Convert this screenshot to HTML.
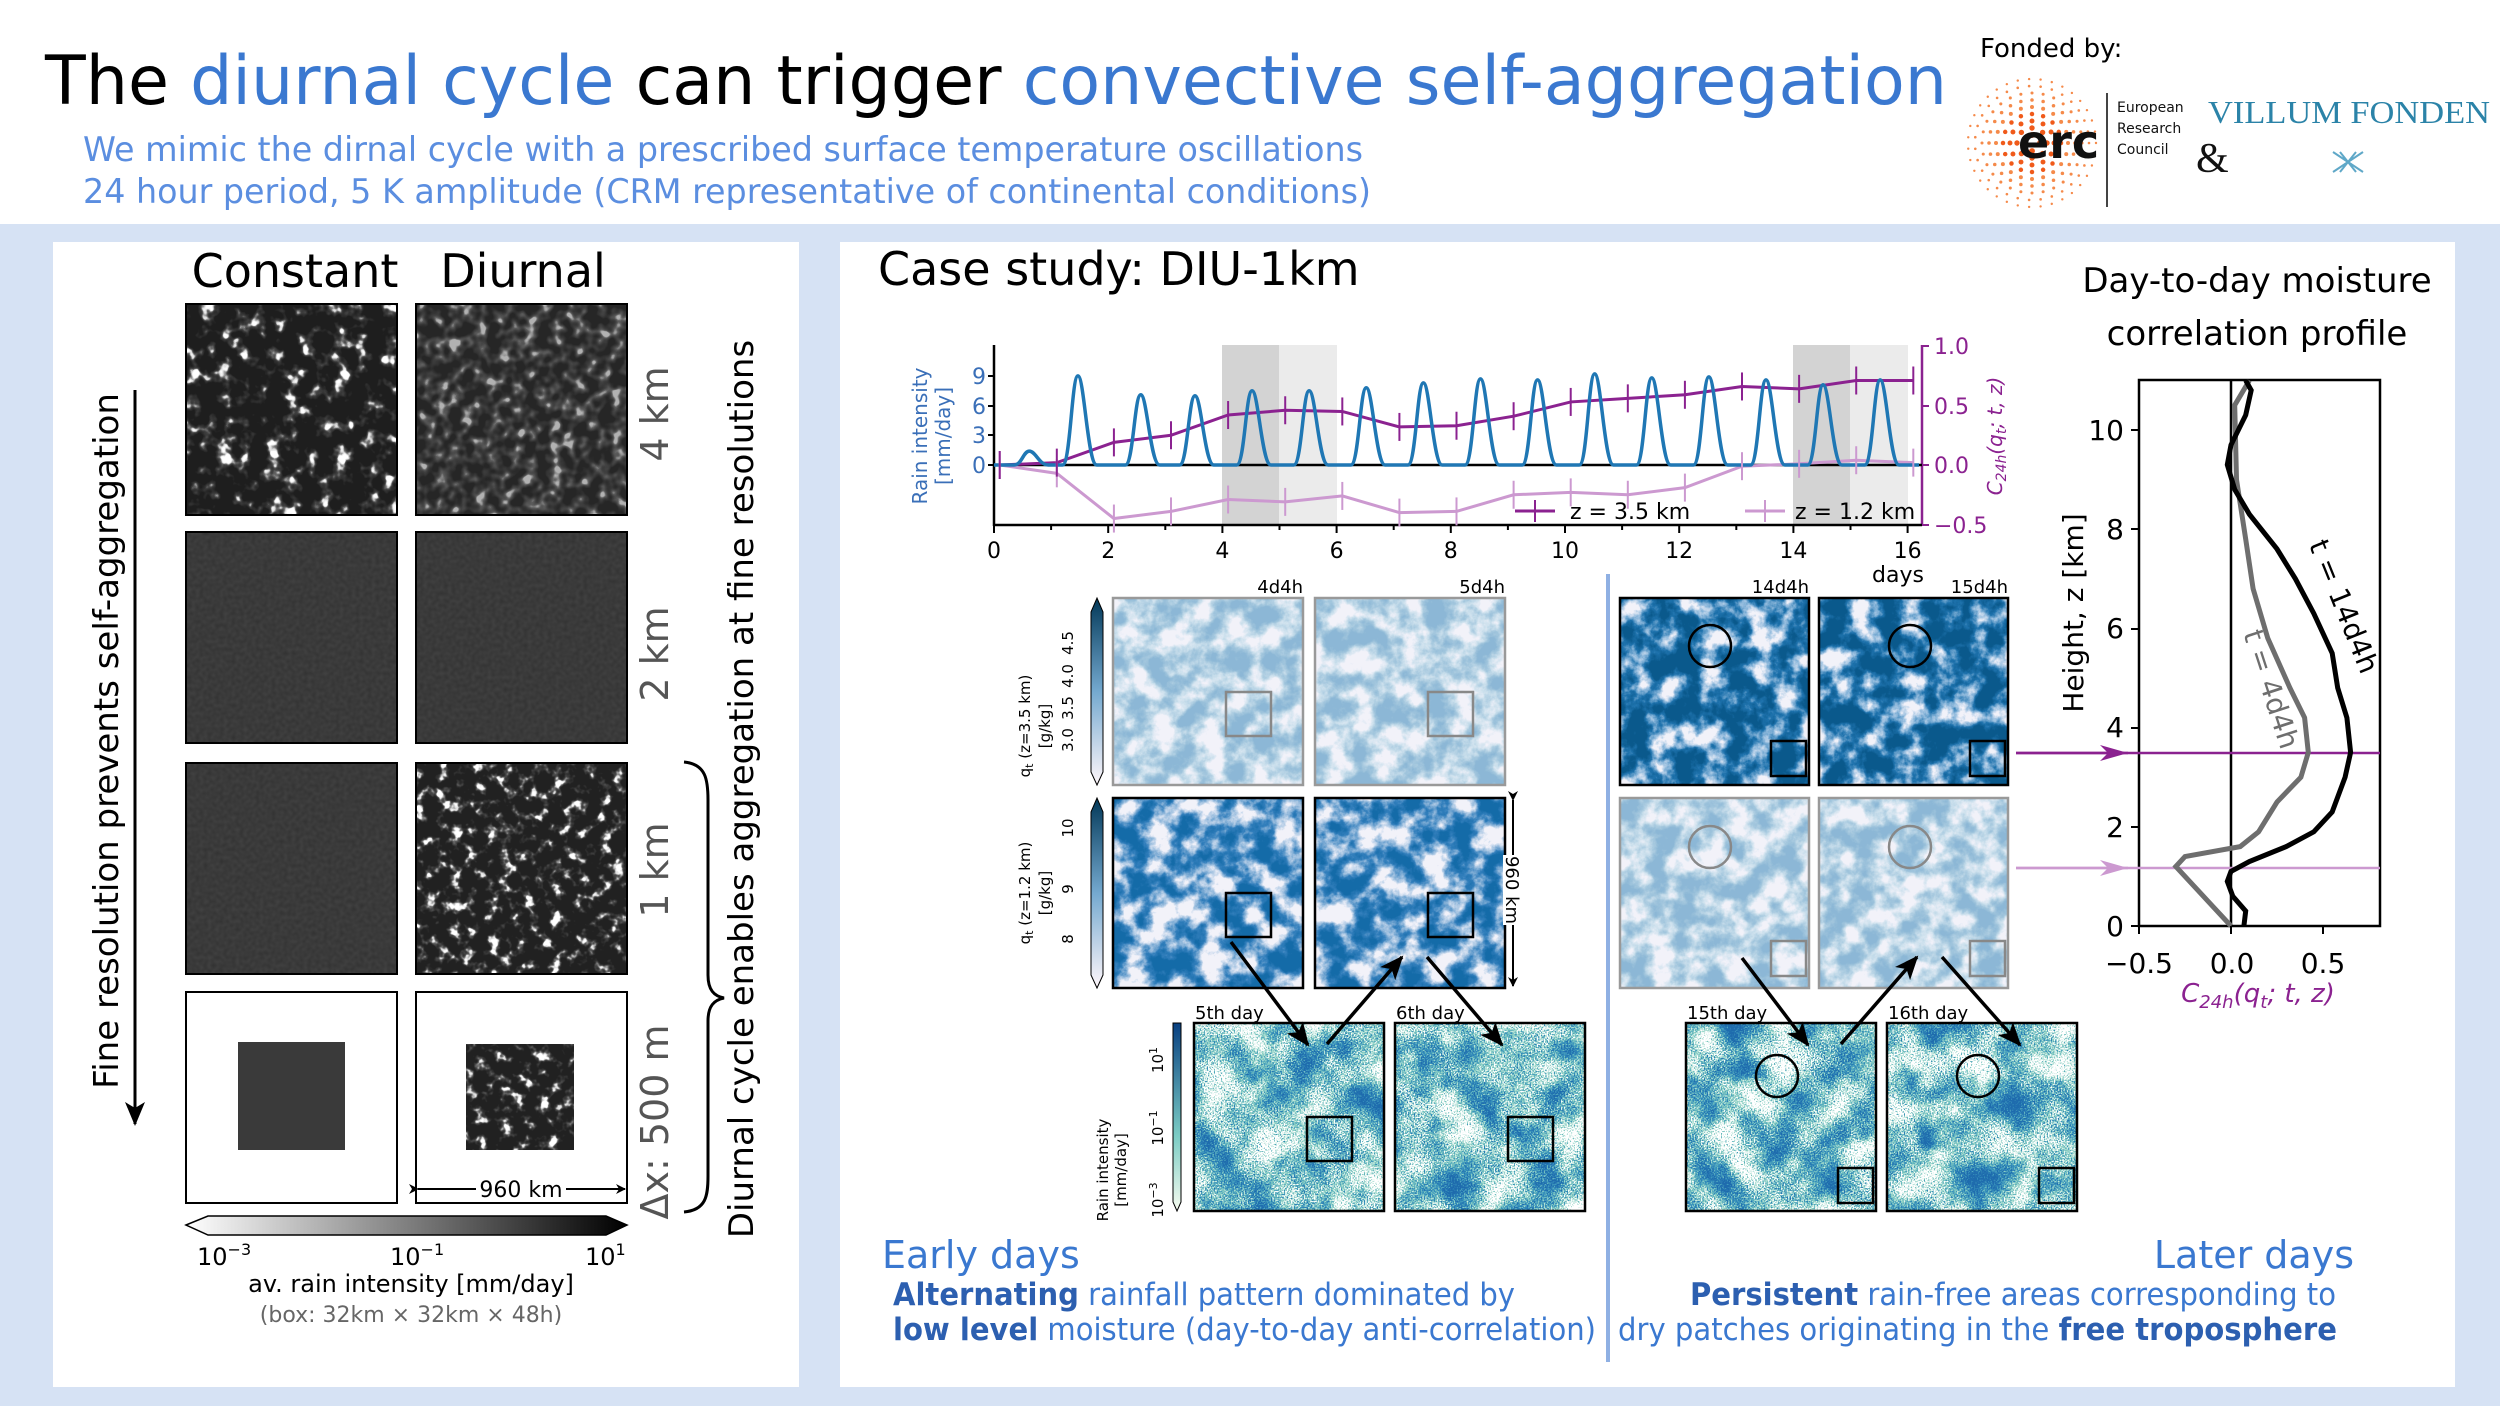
<!DOCTYPE html>
<html><head><meta charset="utf-8"><style>
html,body{margin:0;padding:0;background:#d6e2f4;}
svg{display:block;font-family:"DejaVu Sans","Liberation Sans",sans-serif;}
filter{color-interpolation-filters:sRGB;}
</style></head><body>
<svg id="s" width="2500" height="1406" viewBox="0 0 2500 1406" xmlns="http://www.w3.org/2000/svg">
<defs>
<filter id="gBlob" x="0" y="0" width="1" height="1" color-interpolation-filters="sRGB"><feTurbulence type="fractalNoise" baseFrequency="0.06" numOctaves="3" seed="3"/><feColorMatrix values="4 0 0 0 -2.0 4 0 0 0 -2.0 4 0 0 0 -2.0 0 0 0 0 1"/><feComponentTransfer><feFuncR type="table" tableValues="0.12 0.16 0.2 0.26 0.45 0.85 1"/><feFuncG type="table" tableValues="0.12 0.16 0.2 0.26 0.45 0.85 1"/><feFuncB type="table" tableValues="0.12 0.16 0.2 0.26 0.45 0.85 1"/></feComponentTransfer></filter>
<filter id="gBlob2" x="0" y="0" width="1" height="1" color-interpolation-filters="sRGB"><feTurbulence type="fractalNoise" baseFrequency="0.08" numOctaves="2" seed="9"/><feColorMatrix values="3 0 0 0 -1.2 3 0 0 0 -1.2 3 0 0 0 -1.2 0 0 0 0 1"/><feComponentTransfer><feFuncR type="table" tableValues="0.15 0.2 0.26 0.36 0.7"/><feFuncG type="table" tableValues="0.15 0.2 0.26 0.36 0.7"/><feFuncB type="table" tableValues="0.15 0.2 0.26 0.36 0.7"/></feComponentTransfer></filter>
<filter id="gBlob3" x="0" y="0" width="1" height="1" color-interpolation-filters="sRGB"><feTurbulence type="fractalNoise" baseFrequency="0.08" numOctaves="3" seed="21"/><feColorMatrix values="4 0 0 0 -2.0 4 0 0 0 -2.0 4 0 0 0 -2.0 0 0 0 0 1"/><feComponentTransfer><feFuncR type="table" tableValues="0.13 0.17 0.22 0.3 0.5 0.85 1"/><feFuncG type="table" tableValues="0.13 0.17 0.22 0.3 0.5 0.85 1"/><feFuncB type="table" tableValues="0.13 0.17 0.22 0.3 0.5 0.85 1"/></feComponentTransfer></filter>
<filter id="gFlat" x="0" y="0" width="1" height="1" color-interpolation-filters="sRGB"><feTurbulence type="fractalNoise" baseFrequency="0.25" numOctaves="1" seed="2"/><feColorMatrix values="1 0 0 0 0 1 0 0 0 0 1 0 0 0 0 0 0 0 0 1"/><feComponentTransfer><feFuncR type="table" tableValues="0.19 0.27"/><feFuncG type="table" tableValues="0.19 0.27"/><feFuncB type="table" tableValues="0.19 0.27"/></feComponentTransfer></filter>
<filter id="mPale" x="0" y="0" width="1" height="1" color-interpolation-filters="sRGB"><feTurbulence type="fractalNoise" baseFrequency="0.04" numOctaves="5" seed="5"/><feColorMatrix values="3 0 0 0 -1 3 0 0 0 -1 3 0 0 0 -1 0 0 0 0 1"/><feComponentTransfer><feFuncR type="table" tableValues="0.95 0.8 0.64 0.55"/><feFuncG type="table" tableValues="0.95 0.88 0.78 0.72"/><feFuncB type="table" tableValues="0.98 0.93 0.87 0.84"/></feComponentTransfer></filter>
<filter id="mBlue" x="0" y="0" width="1" height="1" color-interpolation-filters="sRGB"><feTurbulence type="fractalNoise" baseFrequency="0.04" numOctaves="5" seed="11"/><feColorMatrix values="3 0 0 0 -1 3 0 0 0 -1 3 0 0 0 -1 0 0 0 0 1"/><feComponentTransfer><feFuncR type="table" tableValues="0.95 0.6 0.2 0.08"/><feFuncG type="table" tableValues="0.95 0.74 0.5 0.42"/><feFuncB type="table" tableValues="0.98 0.87 0.74 0.66"/></feComponentTransfer></filter>
<filter id="mDark" x="0" y="0" width="1" height="1" color-interpolation-filters="sRGB"><feTurbulence type="fractalNoise" baseFrequency="0.04" numOctaves="5" seed="17"/><feColorMatrix values="3 0 0 0 -0.85 3 0 0 0 -0.85 3 0 0 0 -0.85 0 0 0 0 1"/><feComponentTransfer><feFuncR type="table" tableValues="0.95 0.55 0.12 0.04"/><feFuncG type="table" tableValues="0.95 0.72 0.45 0.35"/><feFuncB type="table" tableValues="0.98 0.86 0.68 0.55"/></feComponentTransfer></filter>
<filter id="mRain" x="0" y="0" width="1" height="1" color-interpolation-filters="sRGB"><feTurbulence type="fractalNoise" baseFrequency="0.025" numOctaves="3" seed="7" result="a"/><feTurbulence type="fractalNoise" baseFrequency="0.7" numOctaves="1" seed="4" result="b"/><feComposite in="a" in2="b" operator="arithmetic" k2="0.65" k3="0.7" k4="-0.14"/><feColorMatrix values="3 0 0 0 -0.7 3 0 0 0 -0.7 3 0 0 0 -0.7 0 0 0 0 1"/><feComponentTransfer><feFuncR type="table" tableValues="1 0.55 0.22 0.12"/><feFuncG type="table" tableValues="1 0.82 0.58 0.42"/><feFuncB type="table" tableValues="1 0.76 0.74 0.68"/></feComponentTransfer></filter>
<linearGradient id="cbL" x1="0" x2="1"><stop offset="0" stop-color="#fff"/><stop offset="1" stop-color="#000"/></linearGradient>
<linearGradient id="cbB" x1="0" y1="1" x2="0" y2="0"><stop offset="0" stop-color="#fff7fb"/><stop offset="0.5" stop-color="#74a9cf"/><stop offset="1" stop-color="#023858"/></linearGradient>
<linearGradient id="cbR" x1="0" y1="1" x2="0" y2="0"><stop offset="0" stop-color="#f7fcf0"/><stop offset="0.4" stop-color="#7bccc4"/><stop offset="1" stop-color="#084081"/></linearGradient>
<marker id="ah" markerWidth="10" markerHeight="10" refX="9" refY="5" orient="auto" markerUnits="userSpaceOnUse"><path d="M0,0 L10,5 L0,10 L3,5z" fill="#000"/></marker>
<marker id="ahB" markerWidth="24" markerHeight="24" refX="22" refY="12" orient="auto" markerUnits="userSpaceOnUse"><path d="M0,2 L24,12 L0,22 L6,12z" fill="#000"/></marker>
<marker id="ahP" markerWidth="28" markerHeight="16" refX="28" refY="8" orient="auto" markerUnits="userSpaceOnUse"><path d="M0,0 L28,8 L0,16 L8,8z" fill="#8b2290"/></marker>
<marker id="ahL" markerWidth="28" markerHeight="16" refX="28" refY="8" orient="auto" markerUnits="userSpaceOnUse"><path d="M0,0 L28,8 L0,16 L8,8z" fill="#cc99d0"/></marker>
</defs>

<rect x="0" y="0" width="2500" height="224" fill="#fff"/>
<text x="45" y="104" font-size="68" textLength="1902" lengthAdjust="spacingAndGlyphs"><tspan fill="#000">The </tspan><tspan fill="#3a78d0">diurnal cycle</tspan><tspan fill="#000"> can trigger </tspan><tspan fill="#3a78d0">convective self-aggregation</tspan></text>
<text x="83" y="161" font-size="34" fill="#5b8ee0" textLength="1280" lengthAdjust="spacingAndGlyphs">We mimic the dirnal cycle with a prescribed surface temperature oscillations</text>
<text x="83" y="203" font-size="34" fill="#5b8ee0" textLength="1288" lengthAdjust="spacingAndGlyphs">24 hour period, 5 K amplitude (CRM representative of continental conditions)</text>
<text x="1980" y="57" font-size="26" fill="#000">Fonded by:</text>
<g id="erc"></g>
<text x="2018" y="158" font-size="46" font-weight="bold" fill="#111">erc</text>
<line x1="2107" y1="93" x2="2107" y2="207" stroke="#444" stroke-width="2"/>
<text x="2117" y="112" font-size="14" fill="#111">European</text>
<text x="2117" y="133" font-size="14" fill="#111">Research</text>
<text x="2117" y="154" font-size="14" fill="#111">Council</text>
<text x="2196" y="172" font-size="42" font-family="Liberation Serif,serif" fill="#111">&amp;</text>
<text x="2208" y="123" font-size="32" font-family="Liberation Serif,serif" fill="#2b83a8" textLength="282" lengthAdjust="spacingAndGlyphs">VILLUM FONDEN</text>
<path d="M2333,152 L2363,172 M2333,172 L2363,152 M2340,152 L2356,172 M2340,172 L2356,152" stroke="#5fa8c8" stroke-width="2"/>

<rect x="53" y="242" width="746" height="1145" fill="#fff"/>
<text x="295" y="287" font-size="46" text-anchor="middle">Constant</text>
<text x="523" y="287" font-size="46" text-anchor="middle">Diurnal</text>
<rect x="186" y="304" width="211" height="211" filter="url(#gBlob)"/>
<rect x="416" y="304" width="211" height="211" filter="url(#gBlob2)"/>
<rect x="186" y="532" width="211" height="211" filter="url(#gFlat)"/>
<rect x="416" y="532" width="211" height="211" filter="url(#gFlat)"/>
<rect x="186" y="763" width="211" height="211" filter="url(#gFlat)"/>
<rect x="416" y="763" width="211" height="211" filter="url(#gBlob3)"/>
<g fill="none" stroke="#000" stroke-width="2">
<rect x="186" y="304" width="211" height="211"/><rect x="416" y="304" width="211" height="211"/>
<rect x="186" y="532" width="211" height="211"/><rect x="416" y="532" width="211" height="211"/>
<rect x="186" y="763" width="211" height="211"/><rect x="416" y="763" width="211" height="211"/>
<rect x="186" y="992" width="211" height="211"/><rect x="416" y="992" width="211" height="211"/>
</g>
<rect x="238" y="1042" width="107" height="108" fill="#3a3a3a"/>
<rect x="466" y="1044" width="108" height="106" filter="url(#gBlob3)"/>
<g fill="#555" font-size="38">
<text transform="translate(668,414) rotate(-90)" text-anchor="middle">4 km</text>
<text transform="translate(668,654) rotate(-90)" text-anchor="middle">2 km</text>
<text transform="translate(668,870) rotate(-90)" text-anchor="middle">1 km</text>
<text transform="translate(668,1122) rotate(-90)" text-anchor="middle">Δx: 500 m</text>
</g>
<line x1="135" y1="390" x2="135" y2="1124" stroke="#000" stroke-width="3" marker-end="url(#ahB)"/>
<text transform="translate(118,741) rotate(-90)" font-size="34" text-anchor="middle">Fine resolution prevents self-aggregation</text>
<path d="M684,762 C706,764 708,780 708,800 L708,975 C708,990 714,996 724,998 C714,1000 708,1006 708,1021 L708,1176 C708,1196 706,1210 684,1212" fill="none" stroke="#000" stroke-width="3"/>
<text transform="translate(753,789) rotate(-90)" font-size="34" text-anchor="middle">Diurnal cycle enables aggregation at fine resolutions</text>
<line x1="418" y1="1189" x2="625" y2="1189" stroke="#000" stroke-width="2" marker-start="url(#ah)" marker-end="url(#ah)"/>
<rect x="476" y="1174" width="90" height="28" fill="#fff"/>
<text x="521" y="1197" font-size="22" text-anchor="middle">960 km</text>
<path d="M186,1225 L208,1216 L606,1216 L627,1225 L606,1235 L208,1235z" fill="url(#cbL)" stroke="#000" stroke-width="1.5"/>
<text x="197" y="1265" font-size="24">10<tspan font-size="16" dy="-10">−3</tspan></text>
<text x="390" y="1265" font-size="24">10<tspan font-size="16" dy="-10">−1</tspan></text>
<text x="585" y="1265" font-size="24">10<tspan font-size="16" dy="-10">1</tspan></text>
<text x="411" y="1292" font-size="24" text-anchor="middle">av. rain intensity [mm/day]</text>
<text x="411" y="1322" font-size="22" fill="#666" text-anchor="middle">(box: 32km × 32km × 48h)</text>

<rect x="840" y="242" width="1615" height="1145" fill="#fff"/>
<text x="878" y="285" font-size="46">Case study: DIU-1km</text>
<text x="2257" y="292" font-size="34" text-anchor="middle">Day-to-day moisture</text>
<text x="2257" y="345" font-size="34" text-anchor="middle">correlation profile</text>

<rect x="1222" y="345" width="57" height="180" fill="#d3d3d3"/>
<rect x="1279" y="345" width="58" height="180" fill="#ebebeb"/>
<rect x="1793" y="345" width="57" height="180" fill="#d3d3d3"/>
<rect x="1850" y="345" width="58" height="180" fill="#ebebeb"/>
<line x1="994" y1="345" x2="994" y2="526" stroke="#000" stroke-width="2.5"/>
<line x1="1922" y1="345" x2="1922" y2="526" stroke="#8b2290" stroke-width="2.5"/>
<line x1="994" y1="525" x2="1922" y2="525" stroke="#000" stroke-width="2.5"/>
<line x1="994" y1="465" x2="1922" y2="465" stroke="#000" stroke-width="2.5"/>
<g id="xt" font-size="22" text-anchor="middle"></g>
<text x="1898" y="582" font-size="22" text-anchor="middle">days</text>
<g fill="#3a6fb8" font-size="22" text-anchor="end">
<text x="986" y="473">0</text><text x="986" y="443">3</text><text x="986" y="414">6</text><text x="986" y="384">9</text></g>
<g stroke="#000" stroke-width="2"><line x1="988" y1="465" x2="994" y2="465"/><line x1="988" y1="435" x2="994" y2="435"/><line x1="988" y1="406" x2="994" y2="406"/><line x1="988" y1="376" x2="994" y2="376"/></g>
<text transform="translate(927,436) rotate(-90)" font-size="20" fill="#3a6fb8" text-anchor="middle">Rain intensity</text>
<text transform="translate(950,436) rotate(-90)" font-size="20" fill="#3a6fb8" text-anchor="middle">[mm/day]</text>
<g fill="#8b2290" font-size="22"><text x="1934" y="354">1.0</text><text x="1934" y="414">0.5</text><text x="1934" y="473">0.0</text><text x="1934" y="533">−0.5</text></g>
<g stroke="#8b2290" stroke-width="2"><line x1="1922" y1="346" x2="1929" y2="346"/><line x1="1922" y1="406" x2="1929" y2="406"/><line x1="1922" y1="465" x2="1929" y2="465"/><line x1="1922" y1="525" x2="1929" y2="525"/></g>
<text transform="translate(2002,436) rotate(-90)" font-size="20" fill="#8b2290" text-anchor="middle" font-style="italic">C<tspan font-size="14" dy="4">24h</tspan><tspan dy="-4">(q</tspan><tspan font-size="14" dy="4">t</tspan><tspan dy="-4">; t, z)</tspan></text>
<path id="p12" fill="none" stroke="#cc99d0" stroke-width="3"/>
<path id="p35" fill="none" stroke="#8b2290" stroke-width="3"/>
<path id="rain" fill="none" stroke="#1f77b4" stroke-width="3.5"/>
<g id="eb"></g>
<line x1="1515" y1="511" x2="1555" y2="511" stroke="#8b2290" stroke-width="3"/><line x1="1535" y1="500" x2="1535" y2="522" stroke="#8b2290" stroke-width="2"/>
<text x="1570" y="519" font-size="22">z = 3.5 km</text>
<line x1="1745" y1="511" x2="1785" y2="511" stroke="#cc99d0" stroke-width="3"/><line x1="1765" y1="500" x2="1765" y2="522" stroke="#cc99d0" stroke-width="2"/>
<text x="1795" y="519" font-size="22">z = 1.2 km</text>

<rect x="1113" y="598" width="190" height="187" filter="url(#mPale)"/>
<rect x="1315" y="598" width="190" height="187" filter="url(#mPale)"/>
<rect x="1113" y="798" width="190" height="190" filter="url(#mBlue)"/>
<rect x="1315" y="798" width="190" height="190" filter="url(#mBlue)"/>
<rect x="1620" y="598" width="189" height="187" filter="url(#mDark)"/>
<rect x="1819" y="598" width="189" height="187" filter="url(#mDark)"/>
<rect x="1620" y="798" width="189" height="190" filter="url(#mPale)"/>
<rect x="1819" y="798" width="189" height="190" filter="url(#mPale)"/>
<rect x="1194" y="1023" width="190" height="188" filter="url(#mRain)"/>
<rect x="1395" y="1023" width="190" height="188" filter="url(#mRain)"/>
<rect x="1686" y="1023" width="190" height="188" filter="url(#mRain)"/>
<rect x="1887" y="1023" width="190" height="188" filter="url(#mRain)"/>
<g fill="none" stroke-width="2.5">
<rect x="1113" y="598" width="190" height="187" stroke="#999"/><rect x="1315" y="598" width="190" height="187" stroke="#999"/>
<rect x="1113" y="798" width="190" height="190" stroke="#000"/><rect x="1315" y="798" width="190" height="190" stroke="#000"/>
<rect x="1620" y="598" width="189" height="187" stroke="#000"/><rect x="1819" y="598" width="189" height="187" stroke="#000"/>
<rect x="1620" y="798" width="189" height="190" stroke="#999"/><rect x="1819" y="798" width="189" height="190" stroke="#999"/>
<rect x="1194" y="1023" width="190" height="188" stroke="#000"/><rect x="1395" y="1023" width="190" height="188" stroke="#000"/>
<rect x="1686" y="1023" width="190" height="188" stroke="#000"/><rect x="1887" y="1023" width="190" height="188" stroke="#000"/>
<rect x="1226" y="692" width="45" height="44" stroke="#888"/><rect x="1428" y="692" width="45" height="44" stroke="#888"/>
<rect x="1226" y="893" width="45" height="44" stroke="#000"/><rect x="1428" y="893" width="45" height="44" stroke="#000"/>
<rect x="1307" y="1117" width="45" height="44" stroke="#000"/><rect x="1508" y="1117" width="45" height="44" stroke="#000"/>
<rect x="1771" y="741" width="35" height="35" stroke="#000"/><rect x="1970" y="741" width="35" height="35" stroke="#000"/>
<rect x="1771" y="941" width="35" height="35" stroke="#888"/><rect x="1970" y="941" width="35" height="35" stroke="#888"/>
<rect x="1838" y="1168" width="35" height="35" stroke="#000"/><rect x="2039" y="1168" width="35" height="35" stroke="#000"/>
<circle cx="1710" cy="646" r="21" stroke="#000"/><circle cx="1910" cy="646" r="21" stroke="#000"/>
<circle cx="1710" cy="847" r="21" stroke="#888"/><circle cx="1910" cy="847" r="21" stroke="#888"/>
<circle cx="1777" cy="1076" r="21" stroke="#000"/><circle cx="1978" cy="1076" r="21" stroke="#000"/>
</g>
<g font-size="18" text-anchor="end"><text x="1303" y="593">4d4h</text><text x="1505" y="593">5d4h</text><text x="1809" y="593">14d4h</text><text x="2008" y="593">15d4h</text></g>
<g font-size="18"><text x="1195" y="1019">5th day</text><text x="1396" y="1019">6th day</text><text x="1687" y="1019">15th day</text><text x="1888" y="1019">16th day</text></g>
<line x1="1513" y1="800" x2="1513" y2="986" stroke="#000" stroke-width="2" marker-start="url(#ah)" marker-end="url(#ah)"/>
<rect x="1503" y="855" width="20" height="70" fill="#fff"/>
<text transform="translate(1506,890) rotate(90)" font-size="18" text-anchor="middle">960 km</text>
<path d="M1091,612 L1097,598 L1103,612 L1103,772 L1097,785 L1091,772z" fill="url(#cbB)" stroke="#000" stroke-width="1"/>
<path d="M1091,812 L1097,798 L1103,812 L1103,975 L1097,988 L1091,975z" fill="url(#cbB)" stroke="#000" stroke-width="1"/>
<path d="M1173,1023 L1181,1023 L1181,1202 L1177,1211 L1173,1202z" fill="url(#cbR)" stroke="#000" stroke-width="1"/>
<g font-size="15" text-anchor="middle">
<text transform="translate(1073,740) rotate(-90)">3.0</text><text transform="translate(1073,708) rotate(-90)">3.5</text><text transform="translate(1073,676) rotate(-90)">4.0</text><text transform="translate(1073,643) rotate(-90)">4.5</text>
<text transform="translate(1073,939) rotate(-90)">8</text><text transform="translate(1073,889) rotate(-90)">9</text><text transform="translate(1073,828) rotate(-90)">10</text>
<text transform="translate(1030,726) rotate(-90)">q<tspan font-size="11" dy="3">t</tspan><tspan dy="-3"> (z=3.5 km)</tspan></text><text transform="translate(1050,726) rotate(-90)">[g/kg]</text>
<text transform="translate(1030,893) rotate(-90)">q<tspan font-size="11" dy="3">t</tspan><tspan dy="-3"> (z=1.2 km)</tspan></text><text transform="translate(1050,893) rotate(-90)">[g/kg]</text>
<text transform="translate(1108,1170) rotate(-90)">Rain intensity</text><text transform="translate(1126,1170) rotate(-90)">[mm/day]</text>
<text transform="translate(1163,1060) rotate(-90)">10<tspan font-size="11" dy="-6">1</tspan></text>
<text transform="translate(1163,1128) rotate(-90)">10<tspan font-size="11" dy="-6">−1</tspan></text>
<text transform="translate(1163,1200) rotate(-90)">10<tspan font-size="11" dy="-6">−3</tspan></text>
</g>
<g stroke="#000" stroke-width="3.5" marker-end="url(#ahB)">
<line x1="1231" y1="942" x2="1308" y2="1045"/><line x1="1327" y1="1044" x2="1402" y2="957"/><line x1="1427" y1="957" x2="1502" y2="1045"/>
<line x1="1742" y1="958" x2="1808" y2="1045"/><line x1="1841" y1="1044" x2="1917" y2="957"/><line x1="1942" y1="957" x2="2020" y2="1045"/>
</g>
<line x1="1608" y1="574" x2="1608" y2="1362" stroke="#8fb0e3" stroke-width="4"/>

<rect x="2139" y="380" width="241" height="546" fill="none" stroke="#000" stroke-width="2.5"/>
<line x1="2231" y1="380" x2="2231" y2="926" stroke="#000" stroke-width="2.5"/>
<line x1="2016" y1="753" x2="2380" y2="753" stroke="#8b2290" stroke-width="2.5"/>
<line x1="2016" y1="868" x2="2380" y2="868" stroke="#cc99d0" stroke-width="2.5"/>
<line x1="2016" y1="753" x2="2128" y2="753" stroke="#8b2290" stroke-width="2.5" marker-end="url(#ahP)"/>
<line x1="2016" y1="868" x2="2128" y2="868" stroke="#cc99d0" stroke-width="2.5" marker-end="url(#ahL)"/>
<path id="pg" fill="none" stroke="#6e6e6e" stroke-width="5"/>
<path id="pb" fill="none" stroke="#000" stroke-width="5"/>
<g font-size="28" text-anchor="end"><text x="2124" y="936">0</text><text x="2124" y="837">2</text><text x="2124" y="737">4</text><text x="2124" y="638">6</text><text x="2124" y="539">8</text><text x="2124" y="440">10</text></g>
<g stroke="#000" stroke-width="2"><line x1="2131" y1="926" x2="2139" y2="926"/><line x1="2131" y1="827" x2="2139" y2="827"/><line x1="2131" y1="728" x2="2139" y2="728"/><line x1="2131" y1="629" x2="2139" y2="629"/><line x1="2131" y1="529" x2="2139" y2="529"/><line x1="2131" y1="430" x2="2139" y2="430"/>
<line x1="2139" y1="926" x2="2139" y2="934"/><line x1="2231" y1="926" x2="2231" y2="934"/><line x1="2323" y1="926" x2="2323" y2="934"/></g>
<g font-size="28" text-anchor="middle"><text x="2139" y="973">−0.5</text><text x="2232" y="973">0.0</text><text x="2323" y="973">0.5</text></g>
<text x="2258" y="1002" font-size="26" fill="#8b2290" text-anchor="middle" font-style="italic">C<tspan font-size="18" dy="6">24h</tspan><tspan dy="-6">(q</tspan><tspan font-size="18" dy="6">t</tspan><tspan dy="-6">; t, z)</tspan></text>
<text transform="translate(2083,613) rotate(-90)" font-size="28" text-anchor="middle">Height, z [km]</text>
<text transform="translate(2335,610) rotate(68)" font-size="28" fill="#000" text-anchor="middle">t = 14d4h</text>
<text transform="translate(2262,692) rotate(72)" font-size="28" fill="#6e6e6e" text-anchor="middle">t = 4d4h</text>

<text x="882" y="1268" font-size="38" fill="#3a78d0">Early days</text>
<text x="2354" y="1268" font-size="38" fill="#3a78d0" text-anchor="end">Later days</text>
<text x="893" y="1305" font-size="31" fill="#3a78d0" textLength="622" lengthAdjust="spacingAndGlyphs"><tspan font-weight="bold" fill="#2c5fb0">Alternating</tspan> rainfall pattern dominated by</text>
<text x="893" y="1340" font-size="31" fill="#3a78d0" textLength="703" lengthAdjust="spacingAndGlyphs"><tspan font-weight="bold" fill="#2c5fb0">low level</tspan> moisture (day-to-day anti-correlation)</text>
<text x="1690" y="1305" font-size="31" fill="#3a78d0" textLength="646" lengthAdjust="spacingAndGlyphs"><tspan font-weight="bold" fill="#2c5fb0">Persistent</tspan> rain-free areas corresponding to</text>
<text x="1618" y="1340" font-size="31" fill="#3a78d0" textLength="719" lengthAdjust="spacingAndGlyphs">dry patches originating in the <tspan font-weight="bold" fill="#2c5fb0">free troposphere</tspan></text>
</svg>
<script>
(function(){
var NS="http://www.w3.org/2000/svg";
function X(d){return 994+57.1*d;}function YR(r){return 465-9.9*r;}function YC(c){return 465-119*c;}
var xt=document.getElementById('xt');
for(var d=0;d<=16;d+=2){var t=document.createElementNS(NS,'text');t.setAttribute('x',X(d));t.setAttribute('y',558);t.textContent=d;xt.appendChild(t);}
var eb=document.getElementById('eb');
for(var d=0;d<=16;d++){var l=document.createElementNS(NS,'line');l.setAttribute('x1',X(d));l.setAttribute('x2',X(d));l.setAttribute('y1',525);l.setAttribute('y2',d%2?530:533);l.setAttribute('stroke','#000');l.setAttribute('stroke-width',2);eb.appendChild(l);}
var peaks=[[0.65,1.4],[1.5,9],[2.6,7.1],[3.55,7],[4.55,7.5],[5.55,7.5],[6.55,7.8],[7.55,8.3],[8.55,8.7],[9.55,8.6],[10.55,9.2],[11.55,8.8],[12.55,8.9],[13.55,8.6],[14.55,8.1],[15.55,8.6]];
var p="M"+X(0)+","+YR(0);
peaks.forEach(function(k){var c=k[0],h=k[1],w=0.3;p+=" L"+X(c-w)+","+YR(0)+" C"+X(c-0.16)+","+YR(0)+" "+X(c-0.14)+","+YR(h)+" "+X(c-0.03)+","+YR(h)+" C"+X(c+0.08)+","+YR(h)+" "+X(c+0.14)+","+YR(0)+" "+X(c+w)+","+YR(0);});
p+=" L"+X(16.2)+","+YR(0);
document.getElementById('rain').setAttribute('d',p);
var a=[0,0.02,0.19,0.25,0.42,0.46,0.45,0.32,0.33,0.41,0.53,0.56,0.59,0.66,0.64,0.71,0.71];
var b=[0,-0.07,-0.45,-0.39,-0.29,-0.31,-0.26,-0.4,-0.39,-0.25,-0.23,-0.25,-0.19,-0.01,0.01,0.04,0.02];
function ser(v,id,col){var s="";v.forEach(function(c,i){var x=X(i+0.1),y=YC(c);s+=(i?" L":"M")+x+","+y;var l=document.createElementNS(NS,'line');l.setAttribute('x1',x);l.setAttribute('x2',x);l.setAttribute('y1',y-14);l.setAttribute('y2',y+14);l.setAttribute('stroke',col);l.setAttribute('stroke-width',2);eb.appendChild(l);});document.getElementById(id).setAttribute('d',s);}
ser(b,'p12','#cc99d0');ser(a,'p35','#8b2290');
function PX(c){return 2231+184*c;}function PZ(z){return 926-49.6*z;}
function prof(pts,id){var s="";pts.forEach(function(q,i){s+=(i?" L":"M")+PX(q[0]).toFixed(1)+","+PZ(q[1]).toFixed(1);});document.getElementById(id).setAttribute('d',s);}
prof([[0.07,0],[0.08,0.3],[0.01,0.6],[-0.02,0.9],[0,1.1],[0.1,1.3],[0.3,1.6],[0.45,1.9],[0.55,2.3],[0.62,3],[0.65,3.5],[0.63,4.2],[0.58,4.8],[0.55,5.5],[0.45,6.3],[0.35,7.0],[0.25,7.6],[0.1,8.3],[0.02,8.8],[-0.02,9.3],[0,9.7],[0.08,10.3],[0.11,10.8],[0.08,11]],'pb');
prof([[0,0],[-0.1,0.4],[-0.2,0.8],[-0.3,1.2],[-0.25,1.4],[0.05,1.6],[0.15,1.9],[0.25,2.5],[0.38,3],[0.42,3.5],[0.4,4.2],[0.32,4.8],[0.2,5.8],[0.12,6.8],[0.08,7.8],[0.03,9],[0.02,10.5],[0.1,11]],'pg');
var g=document.getElementById('erc');var cx=2032,cy=143;
for(var r=8;r<=64;r+=7){var n=Math.round(r*0.55);for(var i=0;i<n;i++){var an=i/n*2*Math.PI;var c=document.createElementNS(NS,'circle');c.setAttribute('cx',cx+r*Math.cos(an));c.setAttribute('cy',cy+r*Math.sin(an));c.setAttribute('r',Math.max(1.2,3.2-r/30));c.setAttribute('fill',r<30?'#f05a1a':'#f58a4a');g.appendChild(c);}}
})();
</script>
</body></html>
